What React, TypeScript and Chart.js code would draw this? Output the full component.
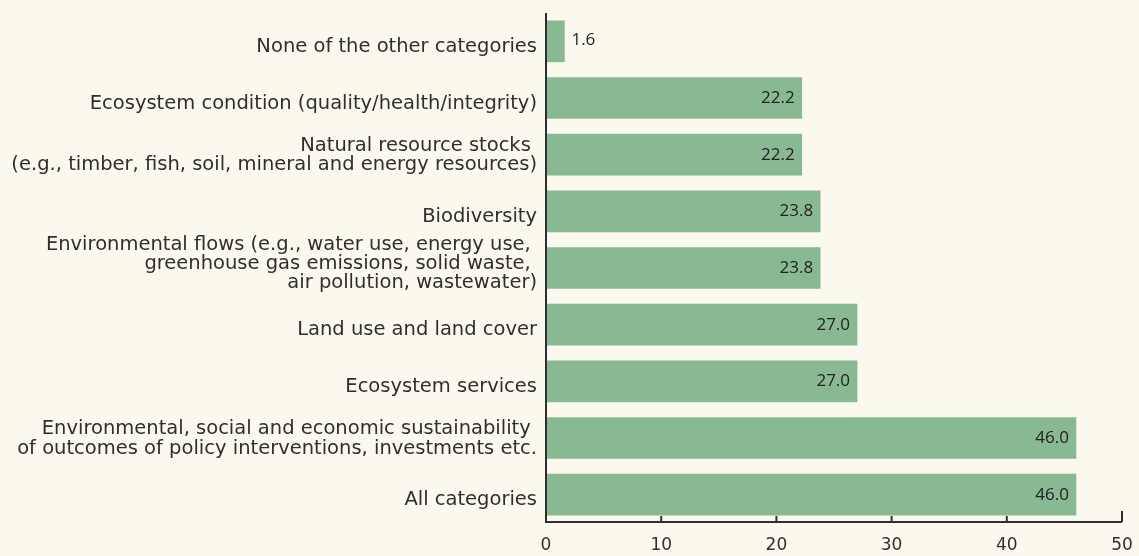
import React, { useEffect, useRef } from "react";
import { Chart, registerables } from "chart.js";

Chart.register(...registerables);

const categories: (string | string[])[] = [
  "None of the other categories",
  "Ecosystem condition (quality/health/integrity)",
  ["Natural resource stocks ", "(e.g., timber, fish, soil, mineral and energy resources)"],
  "Biodiversity",
  ["Environmental flows (e.g., water use, energy use, ", "greenhouse gas emissions, solid waste, ", "air pollution, wastewater)"],
  "Land use and land cover",
  "Ecosystem services",
  ["Environmental, social and economic sustainability ", "of outcomes of policy interventions, investments etc."],
  "All categories",
];
const values: number[] = [1.6, 22.2, 22.2, 23.8, 23.8, 27.0, 27.0, 46.0, 46.0];
const xTicks: number[] = [0, 10, 20, 30, 40, 50];

const BG = "#fbf8ee";
const BAR = "#89b992";
const INK = "#2f2f2f";
const LABEL_FONT = "'DejaVu Sans', sans-serif";
const LABEL_SIZE = 19.5;
const LINE_H = 19.3;

const axisPlugin = {
  id: "customAxes",
  afterDatasetsDraw(chart: any) {
    const ctx = chart.ctx;
    const x = chart.scales.x;
    const y = chart.scales.y;
    const area = chart.chartArea;
    ctx.save();
    ctx.strokeStyle = INK;
    ctx.lineWidth = 2;
    const left = x.getPixelForValue(0);
    const right = x.getPixelForValue(50);
    const bottom = area.bottom - 1;
    ctx.beginPath();
    ctx.moveTo(left, area.top);
    ctx.lineTo(left, bottom);
    ctx.lineTo(right, bottom);
    ctx.stroke();
    xTicks.forEach((t) => {
      if (t === 0) return;
      const px = x.getPixelForValue(t);
      const len = t === 50 ? 11 : 6;
      ctx.beginPath();
      ctx.moveTo(px, bottom);
      ctx.lineTo(px, bottom - len);
      ctx.stroke();
    });

    // category labels
    ctx.font = `${LABEL_SIZE}px ${LABEL_FONT}`;
    ctx.fillStyle = INK;
    ctx.textAlign = "right";
    ctx.textBaseline = "alphabetic";
    const cap = LABEL_SIZE * 0.73;
    categories.forEach((c, i) => {
      const lines = Array.isArray(c) ? c : [c];
      const cy = y.getPixelForValue(i) + 3.5 - 4.75 * (lines.length - 1);
      lines.forEach((ln, j) => {
        const lc = cy + (j - (lines.length - 1) / 2) * LINE_H;
        ctx.fillText(ln, left - 9, lc + cap / 2);
      });
    });

    // value labels
    const meta = chart.getDatasetMeta(0);
    ctx.font = "17px 'Open Sans', sans-serif";
    ctx.fillStyle = "#222";
    ctx.textBaseline = "middle";
    meta.data.forEach((bar: any, i: number) => {
      const v = values[i];
      const txt = v.toFixed(1);
      if (v < 5) {
        ctx.textAlign = "left";
        ctx.fillText(txt, bar.x + 7, bar.y - 1);
      } else {
        ctx.textAlign = "right";
        ctx.fillText(txt, bar.x - 7, bar.y);
      }
    });
    ctx.restore();
  },
};

const bgPlugin = {
  id: "bg",
  beforeDraw(chart: any) {
    const ctx = chart.ctx;
    ctx.save();
    ctx.fillStyle = BG;
    ctx.fillRect(0, 0, chart.width, chart.height);
    ctx.restore();
  },
};

export default function App() {
  const ref = useRef<HTMLCanvasElement | null>(null);
  useEffect(() => {
    document.body.style.margin = "0";
    document.body.style.background = BG;
    const chart = new Chart(ref.current as HTMLCanvasElement, {
      type: "bar",
      data: {
        labels: categories.map((c) => (Array.isArray(c) ? c.join(" ") : c)),
        datasets: [
          {
            data: values,
            backgroundColor: BAR,
            borderWidth: 0,
            barThickness: 41,
          },
        ],
      },
      options: {
        indexAxis: "y",
        animation: false,
        responsive: false,
        maintainAspectRatio: false,
        layout: { padding: { top: 13, right: 17, left: 546, bottom: 0 } },
        plugins: { legend: { display: false }, tooltip: { enabled: false } },
        scales: {
          x: {
            min: 0,
            max: 50,
            afterBuildTicks: (s: any) => {
              s.ticks = xTicks.map((v) => ({ value: v }));
            },
            grid: { display: false, drawTicks: false },
            border: { display: false },
            ticks: {
              padding: 12,
              color: INK,
              font: { family: LABEL_FONT, size: 17 },
            },
            afterFit: (s: any) => {
              s.height = 33;
              s.paddingLeft = 0;
              s.paddingRight = 0;
            },
          },
          y: {
            display: false,
          },
        },
      },
      plugins: [bgPlugin, axisPlugin],
    } as any);
    return () => chart.destroy();
  }, []);
  return (
    <div style={{ position: "absolute", left: 0, top: 0, width: 1139, height: 556, background: BG }}>
      <canvas ref={ref} width={1139} height={556} style={{ width: 1139, height: 556, display: "block" }} />
    </div>
  );
}
